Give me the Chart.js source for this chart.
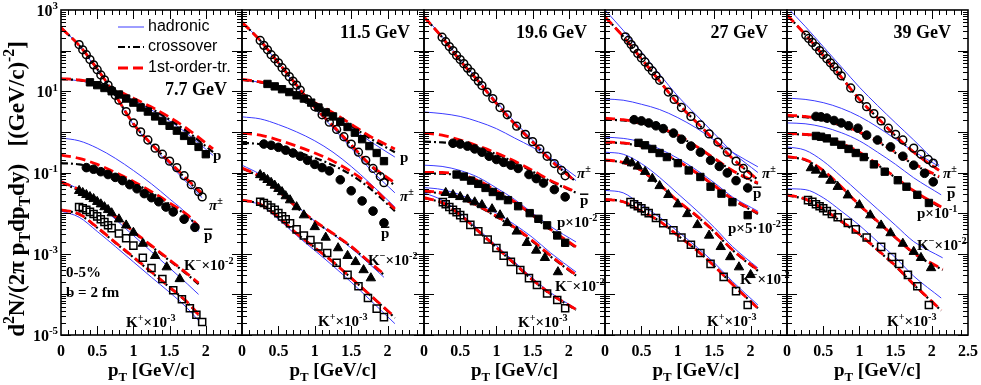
<!DOCTYPE html>
<html>
<head>
<meta charset="utf-8">
<script src="https://cdn.jsdelivr.net/npm/chart.js@4.4.1/dist/chart.umd.min.js"></script>
<style>
  html, body { margin: 0; padding: 0; background: #fff; }
  #wrap { position: relative; width: 981px; height: 385px; }
  #wrap canvas { position: absolute; left: 0; top: 0; }
</style>
</head>
<body>
<div id="wrap"></div>
<script>
// Model curves: read at curvePt, plus one last point at the species' end pT.
const curvePt = [0, 0.25, 0.5, 0.75, 1.0, 1.25, 1.5, 1.75];

const energies = ['7.7 GeV', '11.5 GeV', '19.6 GeV', '27 GeV', '39 GeV'];
const xTickLabels = ['0', '0.5', '1', '1.5', '2'];
const xTickLabelsLast = ['0', '0.5', '1', '1.5', '2', '2.5'];
const yTickExps = [3, 1, -1, -3, -5];
const legendNames = ['hadronic', 'crossover', '1st-order-tr.'];

// ---- 7.7 GeV ---- end pT of curves: pi, p, pbar, K-, K+
const curveEnd77 = [1.95, 2.1, 1.9, 1.9, 1.9];
const piHad77 = [2.56, 2.13, 1.52, 0.88, 0.18, -0.33, -0.80, -1.27, -1.62];
const piCross77 = [2.56, 2.13, 1.55, 0.90, 0.20, -0.30, -0.75, -1.20, -1.55];
const piFirst77 = [2.56, 2.13, 1.55, 0.90, 0.20, -0.30, -0.74, -1.18, -1.52];
const piData77 = [[0.25,2.15],[0.3,2.02],[0.35,1.9],[0.4,1.78],[0.45,1.65],[0.5,1.53],[0.55,1.4],[0.6,1.28],[0.65,1.15],[0.7,1.02],[0.75,0.9],[0.8,0.78],[0.9,0.5],[1.0,0.22],[1.1,0.0],[1.2,-0.2],[1.3,-0.4],[1.4,-0.55],[1.5,-0.72],[1.6,-0.88],[1.7,-1.08],[1.8,-1.3],[1.9,-1.47],[1.95,-1.6]];
const pHad77 = [1.30, 1.26, 1.16, 0.99, 0.78, 0.54, 0.27, -0.05, -0.58];
const pCross77 = [1.30, 1.27, 1.18, 1.02, 0.80, 0.57, 0.30, 0.00, -0.50];
const pFirst77 = [1.31, 1.28, 1.19, 1.03, 0.83, 0.61, 0.36, 0.07, -0.42];
const pData77 = [[0.4,1.22],[0.5,1.15],[0.6,1.08],[0.7,1.0],[0.8,0.92],[0.9,0.82],[1.0,0.72],[1.1,0.6],[1.2,0.5],[1.3,0.38],[1.4,0.27],[1.5,0.15],[1.6,0.03],[1.7,-0.1],[1.8,-0.22],[1.9,-0.37],[2.0,-0.55]];
const pbarHad77 = [-0.15, -0.22, -0.40, -0.65, -0.95, -1.28, -1.65, -2.05, -2.45];
const pbarCross77 = [-0.77, -0.80, -0.90, -1.05, -1.25, -1.50, -1.78, -2.08, -2.35];
const pbarFirst77 = [-0.57, -0.65, -0.80, -1.00, -1.22, -1.47, -1.75, -2.05, -2.32];
const pbarData77 = [[0.35,-0.88],[0.45,-0.92],[0.55,-0.98],[0.65,-1.05],[0.75,-1.12],[0.85,-1.2],[0.95,-1.3],[1.05,-1.4],[1.15,-1.52],[1.25,-1.62],[1.35,-1.72],[1.45,-1.85],[1.55,-1.97],[1.7,-2.15],[1.85,-2.35]];
const kmHad77 = [-1.20, -1.42, -1.75, -2.15, -2.55, -2.95, -3.35, -3.75, -4.00];
const kmCross77 = [-1.25, -1.45, -1.75, -2.10, -2.47, -2.82, -3.17, -3.52, -3.75];
const kmFirst77 = [-1.23, -1.42, -1.72, -2.08, -2.45, -2.80, -3.15, -3.50, -3.72];
const kmData77 = [[0.25,-1.45],[0.3,-1.5],[0.35,-1.55],[0.4,-1.6],[0.45,-1.65],[0.5,-1.72],[0.55,-1.78],[0.6,-1.85],[0.65,-1.92],[0.7,-2.0],[0.8,-2.15],[0.9,-2.3],[1.0,-2.48],[1.13,-2.75],[1.3,-3.05],[1.46,-3.33],[1.64,-3.62]];
const kpHad77 = [-1.95, -2.10, -2.45, -2.82, -3.20, -3.58, -3.95, -4.35, -4.65];
const kpCross77 = [-1.92, -2.03, -2.36, -2.73, -3.09, -3.46, -3.83, -4.21, -4.52];
const kpFirst77 = [-1.92, -2.02, -2.35, -2.72, -3.08, -3.45, -3.82, -4.20, -4.50];
const kpData77 = [[0.25,-1.85],[0.3,-1.88],[0.35,-1.92],[0.4,-1.97],[0.45,-2.02],[0.5,-2.08],[0.55,-2.15],[0.6,-2.22],[0.65,-2.3],[0.7,-2.37],[0.8,-2.5],[0.9,-2.62],[1.0,-2.8],[1.13,-3.1],[1.25,-3.35],[1.4,-3.62],[1.55,-3.9],[1.67,-4.12],[1.78,-4.34],[1.87,-4.5],[1.95,-4.68]];

// ---- 11.5 GeV ----
const curveEnd115 = [2.1, 2.1, 2.1, 1.95, 2.1];
const piHad115 = [2.70, 2.25, 1.68, 1.12, 0.57, 0.10, -0.40, -0.90, -1.50];
const piCross115 = [2.70, 2.25, 1.70, 1.15, 0.60, 0.15, -0.33, -0.81, -1.32];
const piFirst115 = [2.70, 2.25, 1.70, 1.15, 0.60, 0.15, -0.32, -0.79, -1.26];
const piData115 = [[0.25,2.25],[0.3,2.13],[0.35,2.02],[0.4,1.9],[0.45,1.8],[0.5,1.7],[0.55,1.58],[0.6,1.47],[0.65,1.36],[0.7,1.25],[0.75,1.15],[0.8,1.03],[0.9,0.8],[1.0,0.62],[1.1,0.42],[1.2,0.24],[1.3,0.06],[1.4,-0.12],[1.5,-0.3],[1.6,-0.5],[1.7,-0.7],[1.8,-0.9],[1.9,-1.1],[1.95,-1.25]];
const pHad115 = [1.28, 1.22, 1.09, 0.90, 0.67, 0.40, 0.10, -0.22, -0.62];
const pCross115 = [1.28, 1.22, 1.10, 0.92, 0.70, 0.45, 0.15, -0.15, -0.50];
const pFirst115 = [1.29, 1.23, 1.11, 0.93, 0.72, 0.47, 0.19, -0.10, -0.42];
const pData115 = [[0.35,1.18],[0.45,1.12],[0.55,1.05],[0.65,0.98],[0.75,0.9],[0.85,0.82],[0.95,0.72],[1.05,0.6],[1.15,0.48],[1.25,0.38],[1.35,0.25],[1.45,0.12],[1.55,-0.02],[1.65,-0.18],[1.75,-0.35],[1.85,-0.52],[1.95,-0.72]];
const pbarHad115 = [0.37, 0.32, 0.18, 0.00, -0.22, -0.50, -0.85, -1.25, -1.85];
const pbarCross115 = [-0.27, -0.30, -0.38, -0.50, -0.64, -0.82, -1.06, -1.38, -1.95];
const pbarFirst115 = [-0.03, -0.08, -0.20, -0.35, -0.52, -0.72, -0.98, -1.30, -1.90];
const pbarData115 = [[0.3,-0.3],[0.4,-0.33],[0.5,-0.38],[0.6,-0.45],[0.7,-0.52],[0.8,-0.6],[0.9,-0.7],[1.0,-0.8],[1.1,-0.88],[1.2,-0.96],[1.35,-1.18],[1.5,-1.45],[1.65,-1.7],[1.8,-1.95],[1.95,-2.24]];
const kmHad115 = [-0.82, -1.05, -1.42, -1.82, -2.20, -2.52, -2.86, -3.25, -3.58];
const kmCross115 = [-0.90, -1.11, -1.46, -1.86, -2.21, -2.51, -2.83, -3.21, -3.52];
const kmFirst115 = [-0.89, -1.10, -1.45, -1.85, -2.20, -2.50, -2.82, -3.20, -3.50];
const kmData115 = [[0.25,-1.06],[0.3,-1.12],[0.35,-1.18],[0.4,-1.25],[0.45,-1.32],[0.5,-1.4],[0.55,-1.48],[0.6,-1.58],[0.66,-1.68],[0.75,-1.85],[0.85,-2.05],[1.0,-2.34],[1.15,-2.6],[1.32,-2.86],[1.45,-3.05],[1.56,-3.2],[1.67,-3.4],[1.77,-3.6]];
const kpHad115 = [-1.68, -1.80, -2.15, -2.55, -2.92, -3.30, -3.70, -4.12, -4.72];
const kpCross115 = [-1.68, -1.78, -2.10, -2.50, -2.85, -3.20, -3.60, -4.00, -4.58];
const kpFirst115 = [-1.68, -1.78, -2.10, -2.50, -2.85, -3.20, -3.60, -4.00, -4.56];
const kpData115 = [[0.25,-1.72],[0.3,-1.75],[0.35,-1.8],[0.4,-1.86],[0.45,-1.92],[0.5,-2.0],[0.55,-2.08],[0.6,-2.15],[0.66,-2.25],[0.75,-2.4],[0.85,-2.55],[0.94,-2.66],[1.05,-2.82],[1.17,-2.98],[1.3,-3.22],[1.45,-3.52],[1.6,-3.8],[1.73,-4.09],[1.85,-4.35],[1.95,-4.56]];

// ---- 19.6 GeV ---- (p scaled by 1e-2)
const curveEnd196 = [2.1, 2.1, 2.1, 2.1, 2.1];
const piHad196 = [2.85, 2.35, 1.78, 1.28, 0.75, 0.25, -0.20, -0.65, -1.20];
const piCross196 = [2.83, 2.33, 1.75, 1.25, 0.70, 0.20, -0.25, -0.70, -1.23];
const piFirst196 = [2.83, 2.33, 1.75, 1.25, 0.70, 0.20, -0.25, -0.70, -1.23];
const piData196 = [[0.25,2.33],[0.3,2.22],[0.35,2.1],[0.4,2.0],[0.45,1.88],[0.5,1.78],[0.55,1.68],[0.6,1.57],[0.65,1.47],[0.7,1.36],[0.75,1.25],[0.8,1.14],[0.87,0.98],[0.95,0.82],[1.05,0.6],[1.15,0.42],[1.28,0.14],[1.4,-0.06],[1.5,-0.24],[1.6,-0.42],[1.7,-0.6],[1.8,-0.78],[1.9,-0.95],[1.95,-1.08]];
const pHad196 = [-0.82, -0.85, -0.95, -1.12, -1.38, -1.66, -2.00, -2.33, -2.71];
const pCross196 = [-1.03, -1.03, -1.08, -1.22, -1.47, -1.74, -2.06, -2.42, -2.85];
const pFirst196 = [-1.00, -1.00, -1.05, -1.20, -1.45, -1.72, -2.05, -2.40, -2.83];
const pData196 = [[0.45,-1.05],[0.55,-1.1],[0.65,-1.2],[0.75,-1.28],[0.85,-1.38],[0.95,-1.48],[1.05,-1.58],[1.16,-1.68],[1.3,-1.83],[1.46,-2.0],[1.58,-2.14],[1.7,-2.3],[1.84,-2.55],[1.95,-2.73]];
const pbarHad196 = [0.49, 0.45, 0.38, 0.25, 0.08, -0.15, -0.38, -0.65, -1.10];
const pbarCross196 = [-0.24, -0.26, -0.30, -0.40, -0.55, -0.75, -0.98, -1.22, -1.50];
const pbarFirst196 = [-0.03, -0.08, -0.20, -0.35, -0.52, -0.72, -0.95, -1.20, -1.48];
const pbarData196 = [[0.4,-0.28],[0.5,-0.3],[0.6,-0.35],[0.7,-0.42],[0.8,-0.5],[0.9,-0.6],[1.0,-0.68],[1.1,-0.75],[1.2,-0.82],[1.3,-0.9],[1.45,-1.05],[1.55,-1.15],[1.65,-1.26],[1.8,-1.42],[1.95,-1.6]];
const kmHad196 = [-1.37, -1.42, -1.55, -1.75, -2.00, -2.28, -2.60, -2.98, -3.45];
const kmCross196 = [-1.47, -1.52, -1.64, -1.84, -2.09, -2.37, -2.70, -3.07, -3.54];
const kmFirst196 = [-1.45, -1.50, -1.62, -1.82, -2.07, -2.35, -2.68, -3.05, -3.52];
const kmData196 = [[0.3,-1.5],[0.4,-1.55],[0.5,-1.6],[0.6,-1.66],[0.7,-1.73],[0.8,-1.8],[0.94,-1.9],[1.05,-2.05],[1.15,-2.24],[1.28,-2.45],[1.42,-2.73],[1.55,-2.92],[1.67,-3.1],[1.85,-3.45]];
const kpHad196 = [-1.50, -1.68, -2.00, -2.40, -2.80, -3.20, -3.60, -3.96, -4.35];
const kpCross196 = [-1.63, -1.75, -2.05, -2.45, -2.85, -3.25, -3.65, -4.00, -4.38];
const kpFirst196 = [-1.62, -1.74, -2.04, -2.44, -2.84, -3.24, -3.64, -3.99, -4.37];
const kpData196 = [[0.26,-1.73],[0.3,-1.78],[0.35,-1.85],[0.4,-1.92],[0.45,-1.98],[0.5,-2.05],[0.55,-2.12],[0.64,-2.29],[0.75,-2.45],[0.88,-2.65],[1.0,-2.86],[1.1,-3.05],[1.2,-3.2],[1.33,-3.4],[1.45,-3.6],[1.56,-3.77],[1.7,-3.98],[1.84,-4.14],[1.95,-4.34]];

// ---- 27 GeV ---- (p scaled by 5e-2)
const curveEnd27 = [2.1, 2.1, 2.1, 2.1, 2.1];
const piHad27 = [3.00, 2.50, 1.97, 1.42, 0.88, 0.42, -0.04, -0.50, -1.00];
const piCross27 = [2.83, 2.35, 1.80, 1.25, 0.70, 0.25, -0.20, -0.65, -1.18];
const piFirst27 = [2.83, 2.35, 1.80, 1.25, 0.70, 0.25, -0.20, -0.65, -1.18];
const piData27 = [[0.28,2.34],[0.32,2.25],[0.36,2.15],[0.4,2.05],[0.45,1.93],[0.5,1.82],[0.55,1.72],[0.6,1.6],[0.65,1.5],[0.7,1.38],[0.75,1.27],[0.87,0.98],[0.95,0.8],[1.05,0.6],[1.18,0.38],[1.31,0.17],[1.43,-0.05],[1.55,-0.25],[1.68,-0.5],[1.8,-0.72],[1.9,-0.9],[1.96,-1.06]];
const pHad27 = [-0.13, -0.16, -0.25, -0.42, -0.65, -0.93, -1.25, -1.60, -1.95];
const pCross27 = [-0.26, -0.28, -0.36, -0.51, -0.73, -1.01, -1.33, -1.66, -2.02];
const pFirst27 = [-0.25, -0.27, -0.35, -0.50, -0.72, -1.00, -1.32, -1.65, -2.00];
const pData27 = [[0.46,-0.27],[0.55,-0.33],[0.65,-0.42],[0.75,-0.52],[0.85,-0.62],[1.0,-0.77],[1.15,-0.95],[1.31,-1.11],[1.45,-1.35],[1.6,-1.52],[1.75,-1.73],[1.96,-2.05]];
const pbarHad27 = [0.81, 0.78, 0.68, 0.55, 0.35, 0.10, -0.20, -0.50, -0.86];
const pbarCross27 = [0.30, 0.28, 0.20, 0.08, -0.10, -0.36, -0.66, -0.96, -1.28];
const pbarFirst27 = [0.34, 0.30, 0.22, 0.10, -0.08, -0.35, -0.65, -0.95, -1.26];
const pbarData27 = [[0.4,0.3],[0.5,0.27],[0.6,0.22],[0.7,0.15],[0.8,0.08],[0.94,-0.03],[1.05,-0.18],[1.18,-0.35],[1.31,-0.5],[1.45,-0.7],[1.57,-0.85],[1.68,-1.01],[1.8,-1.2],[1.96,-1.38]];
const kmHad27 = [-0.50, -0.55, -0.78, -1.12, -1.52, -1.92, -2.35, -2.82, -3.35];
const kmCross27 = [-0.70, -0.76, -0.96, -1.31, -1.71, -2.06, -2.46, -2.91, -3.42];
const kmFirst27 = [-0.69, -0.75, -0.95, -1.30, -1.70, -2.05, -2.45, -2.90, -3.40];
const kmData27 = [[0.3,-0.72],[0.37,-0.77],[0.45,-0.85],[0.55,-0.98],[0.65,-1.15],[0.75,-1.33],[0.87,-1.55],[1.0,-1.78],[1.13,-2.02],[1.27,-2.29],[1.43,-2.55],[1.59,-2.83],[1.72,-3.08],[1.84,-3.33],[2.0,-3.52]];
const kpHad27 = [-1.44, -1.50, -1.80, -2.10, -2.45, -2.82, -3.22, -3.68, -4.26];
const kpCross27 = [-1.66, -1.72, -1.95, -2.20, -2.55, -2.90, -3.30, -3.75, -4.34];
const kpFirst27 = [-1.66, -1.72, -1.95, -2.20, -2.55, -2.90, -3.30, -3.75, -4.34];
const kpData27 = [[0.35,-1.73],[0.4,-1.78],[0.45,-1.83],[0.5,-1.88],[0.55,-1.95],[0.6,-2.0],[0.7,-2.12],[0.8,-2.25],[0.94,-2.42],[1.05,-2.6],[1.18,-2.78],[1.31,-2.98],[1.45,-3.25],[1.63,-3.57],[1.8,-3.92],[1.96,-4.26]];

// ---- 39 GeV ---- (p scaled by 1e-1)
const curveEnd39 = [2.1, 2.13, 2.1, 2.15, 2.13];
const piHad39 = [3.07, 2.60, 2.10, 1.60, 1.10, 0.65, 0.22, -0.20, -0.82];
const piCross39 = [2.88, 2.40, 1.88, 1.35, 0.80, 0.35, -0.10, -0.50, -0.95];
const piFirst39 = [2.88, 2.40, 1.88, 1.35, 0.80, 0.35, -0.10, -0.50, -0.95];
const piData39 = [[0.26,2.38],[0.3,2.3],[0.35,2.2],[0.4,2.1],[0.45,2.0],[0.5,1.9],[0.55,1.8],[0.6,1.7],[0.65,1.6],[0.7,1.5],[0.75,1.38],[0.88,1.08],[1.0,0.82],[1.1,0.62],[1.2,0.45],[1.3,0.27],[1.4,0.09],[1.5,-0.06],[1.6,-0.2],[1.75,-0.4],[1.85,-0.55],[1.95,-0.68],[2.02,-0.77]];
const pHad39 = [0.22, 0.20, 0.12, -0.02, -0.22, -0.50, -0.80, -1.13, -1.55];
const pCross39 = [-0.05, -0.07, -0.13, -0.29, -0.51, -0.81, -1.13, -1.46, -1.87];
const pFirst39 = [-0.04, -0.06, -0.12, -0.28, -0.50, -0.80, -1.12, -1.45, -1.85];
const pData39 = [[0.4,-0.1],[0.47,-0.12],[0.55,-0.16],[0.65,-0.24],[0.75,-0.32],[0.85,-0.42],[0.95,-0.52],[1.06,-0.62],[1.2,-0.8],[1.35,-0.98],[1.53,-1.19],[1.65,-1.35],[1.8,-1.55],[1.96,-1.75]];
const pbarHad39 = [0.83, 0.80, 0.72, 0.58, 0.38, 0.12, -0.18, -0.48, -0.85];
const pbarCross39 = [0.38, 0.36, 0.28, 0.15, -0.02, -0.24, -0.52, -0.80, -1.12];
const pbarFirst39 = [0.41, 0.38, 0.30, 0.17, 0.00, -0.22, -0.50, -0.78, -1.10];
const pbarData39 = [[0.4,0.38],[0.47,0.37],[0.55,0.34],[0.65,0.28],[0.75,0.22],[0.85,0.15],[0.98,0.09],[1.1,-0.08],[1.25,-0.2],[1.43,-0.37],[1.6,-0.6],[1.75,-0.82],[1.9,-1.02],[2.02,-1.23]];
const kmHad39 = [-0.37, -0.45, -0.72, -1.10, -1.50, -1.90, -2.30, -2.70, -3.10];
const kmCross39 = [-0.62, -0.69, -0.96, -1.36, -1.81, -2.21, -2.61, -2.99, -3.40];
const kmFirst39 = [-0.61, -0.68, -0.95, -1.35, -1.80, -2.20, -2.60, -2.98, -3.38];
const kmData39 = [[0.33,-0.89],[0.4,-0.95],[0.5,-1.05],[0.6,-1.2],[0.7,-1.35],[0.84,-1.56],[1.0,-1.8],[1.15,-2.05],[1.3,-2.3],[1.43,-2.49],[1.6,-2.75],[1.75,-2.95],[1.85,-3.1],[1.99,-3.35]];
const kpHad39 = [-1.40, -1.42, -1.62, -1.95, -2.30, -2.70, -3.10, -3.55, -4.09];
const kpCross39 = [-1.56, -1.66, -1.91, -2.21, -2.53, -2.91, -3.31, -3.76, -4.40];
const kpFirst39 = [-1.55, -1.65, -1.90, -2.20, -2.52, -2.90, -3.30, -3.75, -4.39];
const kpData39 = [[0.29,-1.68],[0.35,-1.72],[0.4,-1.78],[0.45,-1.83],[0.5,-1.88],[0.55,-1.95],[0.62,-2.02],[0.7,-2.1],[0.84,-2.24],[0.95,-2.4],[1.1,-2.6],[1.3,-2.83],[1.45,-3.08],[1.55,-3.25],[1.67,-3.52],[1.8,-3.8],[1.96,-4.26]];

// ---------------------------------------------------------------------------
const SPECIES = ['pi', 'p', 'pbar', 'km', 'kp'];
const markerStyle = {
  pi:   { pointStyle: 'circle',   pointRadius: 3.9, pointBackgroundColor: 'rgba(0,0,0,0)', pointBorderWidth: 1.5 },
  p:    { pointStyle: 'rect',     pointRadius: 5.2, pointBackgroundColor: '#000', pointBorderWidth: 1 },
  pbar: { pointStyle: 'circle',   pointRadius: 4.3, pointBackgroundColor: '#000', pointBorderWidth: 1 },
  km:   { pointStyle: 'triangle', pointRadius: 5.4, pointBackgroundColor: '#000', pointBorderWidth: 1 },
  kp:   { pointStyle: 'rect',     pointRadius: 5,   pointBackgroundColor: 'rgba(0,0,0,0)', pointBorderWidth: 1.5 }
};
const BLUE = '#3c3cff';
const lineStyle = [
  { borderColor: BLUE, borderWidth: 1, borderDash: [], order: 3 },
  { borderColor: '#000', borderWidth: 2.2, borderDash: [7, 3, 2, 3], order: 2 },
  { borderColor: '#ff0000', borderWidth: 2.8, borderDash: [10, 5], order: 1 }
];

const panelEdges = [61, 242, 424, 605, 787, 968];
const SERIF = '"Liberation Serif", "Times New Roman", serif';
const SANS = '"Liberation Sans", Arial, Helvetica, sans-serif';

const sup = t => [t, 'sup'];
const sub = t => [t, 'sub'];
const piLbl = [['π', 'it'], sup('±')];
const pbarLbl = [['p', 'bar']];
const kmLbl = ['K', sup('−'), '×10', sup('-2')];
const kpLbl = ['K', sup('+'), '×10', sup('-3')];

const panels = [
  { curves: { pi: [piHad77, piCross77, piFirst77], p: [pHad77, pCross77, pFirst77], pbar: [pbarHad77, pbarCross77, pbarFirst77], km: [kmHad77, kmCross77, kmFirst77], kp: [kpHad77, kpCross77, kpFirst77] },
    data: { pi: piData77, p: pData77, pbar: pbarData77, km: kmData77, kp: kpData77 }, ends: curveEnd77,
    energyPos: [227, 95],
    labels: [[213, 160, ['p']], [209, 210, piLbl], [204, 240, pbarLbl], [184, 270, kmLbl], [126, 327, kpLbl],
             [66, 277, ['0-5%']], [66, 297, ['b = 2 fm']]] },
  { curves: { pi: [piHad115, piCross115, piFirst115], p: [pHad115, pCross115, pFirst115], pbar: [pbarHad115, pbarCross115, pbarFirst115], km: [kmHad115, kmCross115, kmFirst115], kp: [kpHad115, kpCross115, kpFirst115] },
    data: { pi: piData115, p: pData115, pbar: pbarData115, km: kmData115, kp: kpData115 }, ends: curveEnd115,
    energyPos: [410, 38],
    labels: [[400, 162, ['p']], [400, 201, piLbl], [381, 238, pbarLbl], [368, 265, kmLbl], [318, 326, kpLbl]] },
  { curves: { pi: [piHad196, piCross196, piFirst196], p: [pHad196, pCross196, pFirst196], pbar: [pbarHad196, pbarCross196, pbarFirst196], km: [kmHad196, kmCross196, kmFirst196], kp: [kpHad196, kpCross196, kpFirst196] },
    data: { pi: piData196, p: pData196, pbar: pbarData196, km: kmData196, kp: kpData196 }, ends: curveEnd196,
    energyPos: [587, 38],
    labels: [[577, 178, piLbl], [580, 205, pbarLbl], [557, 227, ['p×10', sup('-2')]], [555, 291, kmLbl], [518, 327, kpLbl]] },
  { curves: { pi: [piHad27, piCross27, piFirst27], p: [pHad27, pCross27, pFirst27], pbar: [pbarHad27, pbarCross27, pbarFirst27], km: [kmHad27, kmCross27, kmFirst27], kp: [kpHad27, kpCross27, kpFirst27] },
    data: { pi: piData27, p: pData27, pbar: pbarData27, km: kmData27, kp: kpData27 }, ends: curveEnd27,
    energyPos: [768, 38],
    labels: [[762, 178, piLbl], [753, 198, pbarLbl], [728, 233, ['p×5·10', sup('-2')]], [740, 284, kmLbl], [707, 326, kpLbl]] },
  { curves: { pi: [piHad39, piCross39, piFirst39], p: [pHad39, pCross39, pFirst39], pbar: [pbarHad39, pbarCross39, pbarFirst39], km: [kmHad39, kmCross39, kmFirst39], kp: [kpHad39, kpCross39, kpFirst39] },
    data: { pi: piData39, p: pData39, pbar: pbarData39, km: kmData39, kp: kpData39 }, ends: curveEnd39,
    energyPos: [951, 38],
    labels: [[943, 178, piLbl], [947, 198, pbarLbl], [917, 218, ['p×10', sup('-1')]], [917, 250, kmLbl], [887, 326, kpLbl]] }
];

// rich text: parts are strings or [text, mode] with mode sup/sub/it/bar
function partFont(mode, size, family, weight) {
  const s = (mode === 'sup' || mode === 'sub') ? size * 0.68 : size;
  const style = mode === 'it' ? 'italic ' : '';
  return `${style}${weight} ${s.toFixed(1)}px ${family}`;
}
function richWidth(ctx, parts, size, family, weight) {
  let w = 0;
  for (const part of parts) {
    const [t, mode] = typeof part === 'string' ? [part, ''] : part;
    ctx.font = partFont(mode, size, family, weight);
    w += ctx.measureText(t).width;
  }
  return w;
}
function drawRich(ctx, x, y, parts, size, align, family = SERIF, weight = 'bold') {
  const w = richWidth(ctx, parts, size, family, weight);
  let cx = align === 'right' ? x - w : align === 'center' ? x - w / 2 : x;
  ctx.textAlign = 'left';
  ctx.textBaseline = 'alphabetic';
  for (const part of parts) {
    const [t, mode] = typeof part === 'string' ? [part, ''] : part;
    ctx.font = partFont(mode, size, family, weight);
    let dy = 0;
    if (mode === 'sup') dy = -size * 0.42;
    if (mode === 'sub') dy = size * 0.25;
    ctx.fillText(t, cx, y + dy);
    const tw = ctx.measureText(t).width;
    if (mode === 'bar') {
      ctx.save();
      ctx.lineWidth = 1.5;
      ctx.beginPath();
      ctx.moveTo(cx, y - size * 0.72);
      ctx.lineTo(cx + tw, y - size * 0.72);
      ctx.stroke();
      ctx.restore();
    }
    cx += tw;
  }
}

function seg(ctx, x1, y1, x2, y2) {
  ctx.beginPath(); ctx.moveTo(x1, y1); ctx.lineTo(x2, y2); ctx.stroke();
}

const rootFrame = {
  id: 'rootFrame',
  afterDraw(chart, args, opts) {
    const { ctx, chartArea: a, scales: { x, y } } = chart;
    const idx = opts.index;
    const panel = panels[idx];
    ctx.save();
    ctx.strokeStyle = '#000';
    ctx.fillStyle = '#000';
    ctx.lineWidth = 1;

    // log y ticks, inside on both sides
    for (let d = -5; d < 3; d++) {
      for (let m = 1; m < 10; m++) {
        const py = Math.round(y.getPixelForValue(m * Math.pow(10, d))) + 0.5;
        const len = m === 1 ? 10 : 5;
        seg(ctx, a.left, py, a.left + len, py);
        seg(ctx, a.right, py, a.right - len, py);
      }
    }
    // x ticks every 0.1, major every 0.5, bottom and top
    for (let i = 1; i < 25; i++) {
      const px = Math.round(x.getPixelForValue(i / 10)) + 0.5;
      const len = i % 5 === 0 ? 9 : 5;
      seg(ctx, px, a.bottom, px, a.bottom - len);
      seg(ctx, px, a.top, px, a.top + len);
    }
    ctx.lineWidth = 1.6;
    ctx.strokeRect(a.left, a.top, a.right - a.left, a.bottom - a.top);

    // x tick labels + title
    const labels = idx === panels.length - 1 ? xTickLabelsLast : xTickLabels;
    labels.forEach((t, i) => {
      ctx.font = `bold 16px ${SERIF}`;
      ctx.textAlign = 'center';
      ctx.textBaseline = 'alphabetic';
      ctx.fillText(t, x.getPixelForValue(i * 0.5), 356);
    });
    drawRich(ctx, (a.left + a.right) / 2, 376, ['p', sub('T'), ' [GeV/c]'], 19, 'center');

    // energy label
    drawRich(ctx, panel.energyPos[0], panel.energyPos[1], [energies[idx]], 18, 'right');

    // species labels
    for (const [lx, ly, parts] of panel.labels) drawRich(ctx, lx, ly, parts, 15, 'left');

    if (idx === 0) {
      // y tick labels
      for (const e of yTickExps) {
        const py = y.getPixelForValue(Math.pow(10, e));
        drawRich(ctx, a.left - 3, py + 6, ['10', sup(String(e))], 16, 'right');
      }
      // y title, rotated
      const title = ['d', sup('2'), 'N/(2π p', sub('T'), 'dp', sub('T'), 'dy)   [(GeV/c)', sup('-2'), ']'];
      const w0 = richWidth(ctx, title, 20, SERIF, 'bold');
      const size = Math.min(24, 20 * 296 / w0);
      ctx.save();
      ctx.translate(24, 189);
      ctx.rotate(-Math.PI / 2);
      drawRich(ctx, 0, 0, title, size, 'center');
      ctx.restore();

      // legend
      const ly = [27, 47, 68];
      lineStyle.forEach((st, i) => {
        ctx.save();
        ctx.strokeStyle = st.borderColor;
        ctx.lineWidth = st.borderWidth;
        ctx.setLineDash(st.borderDash);
        seg(ctx, 118, ly[i], 144, ly[i]);
        ctx.restore();
        ctx.fillStyle = '#000';
        ctx.font = `16px ${SANS}`;
        ctx.textAlign = 'left';
        ctx.textBaseline = 'middle';
        ctx.fillText(legendNames[i], 148, ly[i]);
      });
    }
    ctx.restore();
  }
};

const wrap = document.getElementById('wrap');
panels.forEach((panel, idx) => {
  const datasets = [];
  SPECIES.forEach((sp, si) => {
    const end = panel.ends[si];
    panel.curves[sp].forEach((logs, k) => {
      datasets.push({
        data: logs.map((v, i) => ({ x: i < curvePt.length ? curvePt[i] : end, y: Math.pow(10, v) })),
        ...lineStyle[k],
        pointRadius: 0,
        fill: false,
        cubicInterpolationMode: 'monotone'
      });
    });
    datasets.push({
      data: panel.data[sp].map(([px, v]) => ({ x: px, y: Math.pow(10, v) })),
      showLine: false,
      borderColor: '#000',
      pointBorderColor: '#000',
      ...markerStyle[sp],
      order: 0
    });
  });

  const canvas = document.createElement('canvas');
  canvas.width = 981;
  canvas.height = 385;
  wrap.appendChild(canvas);

  new Chart(canvas, {
    type: 'line',
    data: { datasets },
    options: {
      responsive: false,
      animation: false,
      devicePixelRatio: 1,
      layout: { padding: { left: panelEdges[idx], right: 981 - panelEdges[idx + 1], top: 10, bottom: 50 } },
      scales: {
        x: { type: 'linear', min: 0, max: 2.5, display: false },
        y: { type: 'logarithmic', min: 1e-5, max: 1e3, display: false }
      },
      plugins: {
        legend: { display: false },
        tooltip: { enabled: false },
        rootFrame: { index: idx }
      }
    },
    plugins: [rootFrame]
  });
});
</script>
</body>
</html>
